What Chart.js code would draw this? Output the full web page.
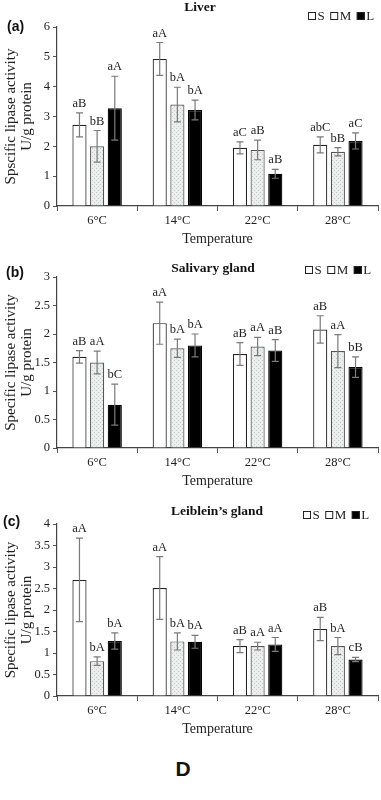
<!DOCTYPE html>
<html>
<head>
<meta charset="utf-8">
<script src="https://cdn.jsdelivr.net/npm/chart.js@4/dist/chart.umd.min.js"></script>
<style>
    body { margin: 0; background: #fff; width: 381px; height: 800px; position: relative; overflow: hidden; }
    .panel { position: absolute; left: 0; }
    #mark { position: absolute; left: 0; width: 366px; top: 757px; text-align: center;
            font: bold 21px "Liberation Sans", Arial, sans-serif; color: #111; }
</style>
</head>
<body>
<div class="panel" style="top:0px"><canvas id="chartA" width="381" height="250"></canvas></div>
<div class="panel" style="top:250px"><canvas id="chartB" width="381" height="242"></canvas></div>
<div class="panel" style="top:497px"><canvas id="chartC" width="381" height="243"></canvas></div>
<div id="mark">D</div>
<script>
// categories / series
const temps = ['6°C', '14°C', '22°C', '28°C'];
const sizes = ['S', 'M', 'L'];

// (a) liver: rows = S, M, L
const liverMeans = [[2.72, 4.93, 1.95, 2.05], [2.00, 3.40, 1.88, 1.82], [3.28, 3.22, 1.08, 2.18]];
const liverErr = [[0.40, 0.55, 0.20, 0.27], [0.53, 0.58, 0.33, 0.14], [1.07, 0.33, 0.15, 0.27]];
const liverLetters = [['aB', 'aA', 'aC', 'abC'], ['bB', 'bA', 'aB', 'bB'], ['aA', 'bA', 'aB', 'aC']];

// (b) salivary gland
const salivaryMeans = [[1.60, 2.19, 1.65, 2.08], [1.50, 1.75, 1.78, 1.70], [0.76, 1.80, 1.71, 1.42]];
const salivaryErr = [[0.11, 0.37, 0.20, 0.24], [0.20, 0.16, 0.16, 0.29], [0.36, 0.20, 0.19, 0.18]];
const salivaryLetters = [['aB', 'aA', 'aB', 'aB'], ['aA', 'bA', 'aA', 'aA'], ['bC', 'bA', 'aB', 'bB']];

// (c) Leiblein's gland
const leibleinMeans = [[2.70, 2.51, 1.16, 1.56], [0.81, 1.27, 1.16, 1.16], [1.28, 1.26, 1.20, 0.85]];
const leibleinErr = [[0.97, 0.73, 0.15, 0.27], [0.10, 0.20, 0.09, 0.20], [0.19, 0.15, 0.16, 0.05]];
const leibleinLetters = [['aA', 'aA', 'aB', 'aB'], ['bA', 'bA', 'aA', 'bA'], ['bA', 'bA', 'aA', 'cB']];

const serif = '"Liberation Serif", "Times New Roman", serif';

function dotPattern() {
    const c = document.createElement('canvas');
    c.width = 4; c.height = 4;
    const g = c.getContext('2d');
    g.fillStyle = '#eceeee';
    g.fillRect(0, 0, 4, 4);
    g.fillStyle = '#c9cccc';
    g.fillRect(0, 0, 1, 1);
    g.fillRect(2, 2, 1, 1);
    return g.createPattern(c, 'repeat');
}
const mFill = dotPattern();
const fills = ['#ffffff', mFill, '#000000'];
const borders = ['#222222', '#555555', '#000000'];

const decorPlugin = {
    id: 'decor',
    afterDatasetsDraw(chart) {
        const o = chart.options.plugins.decor;
        const ctx = chart.ctx, y = chart.scales.y;
        ctx.save();
        chart.data.datasets.forEach((ds, i) => {
            chart.getDatasetMeta(i).data.forEach((bar, j) => {
                const top = y.getPixelForValue(ds.data[j] + o.err[i][j]);
                const bot = y.getPixelForValue(ds.data[j] - o.err[i][j]);
                ctx.strokeStyle = '#7a7a7a';
                ctx.lineWidth = 1.2;
                ctx.beginPath();
                ctx.moveTo(bar.x, top); ctx.lineTo(bar.x, bot);
                ctx.moveTo(bar.x - 3.5, top); ctx.lineTo(bar.x + 3.5, top);
                ctx.moveTo(bar.x - 3.5, bot); ctx.lineTo(bar.x + 3.5, bot);
                ctx.stroke();
                ctx.fillStyle = '#222';
                ctx.font = '12.5px ' + serif;
                ctx.textAlign = 'center';
                ctx.textBaseline = 'bottom';
                ctx.fillText(o.letters[i][j], bar.x, top - 3);
            });
        });
        ctx.restore();
    },
    afterDraw(chart) {
        const o = chart.options.plugins.decor;
        const ctx = chart.ctx;
        ctx.save();
        ctx.textBaseline = 'middle';
        ctx.fillStyle = '#111';
        ctx.font = 'bold 14px "Liberation Sans", Arial, sans-serif';
        ctx.textAlign = 'left';
        ctx.fillText(o.label, o.labelX, o.labelY);
        ctx.font = 'bold 13.5px ' + serif;
        ctx.textAlign = 'center';
        ctx.fillText(o.title, o.titleX, o.titleY);
        // legend
        let x = o.legendX;
        ctx.font = '13px ' + serif;
        ctx.textAlign = 'left';
        sizes.forEach((s, i) => {
            ctx.fillStyle = i === 2 ? '#000' : '#fff';
            ctx.fillRect(x, o.legendY - 4, 8, 8);
            ctx.strokeStyle = '#222';
            ctx.lineWidth = 1;
            ctx.strokeRect(x + 0.5, o.legendY - 3.5, 7, 7);
            ctx.fillStyle = '#222';
            ctx.fillText(s, x + 9.5, o.legendY + 0.5);
            x += 10 + ctx.measureText(s).width + 5;
        });
        ctx.restore();
    }
};

function makeChart(id, means, err, letters, yMax, yStep, yLine1, decor) {
    new Chart(document.getElementById(id), {
        type: 'bar',
        data: {
            labels: temps,
            datasets: sizes.map((s, i) => ({
                label: s,
                data: means[i],
                backgroundColor: fills[i],
                borderColor: borders[i],
                borderWidth: 1.2,
                barPercentage: 0.8,
                categoryPercentage: 0.66
            }))
        },
        options: {
            responsive: false,
            animation: false,
            layout: { padding: { top: 27, right: 3, left: 0, bottom: 0 } },
            plugins: {
                legend: { display: false },
                tooltip: { enabled: false },
                decor: Object.assign({ err: err, letters: letters }, decor)
            },
            scales: {
                x: {
                    afterFit(scale) { scale.height = 44; },
                    grid: { display: true, drawOnChartArea: false, offset: true, tickLength: 5, color: '#555' },
                    border: { color: '#444', width: 1.2 },
                    ticks: { color: '#222', font: { family: serif, size: 12.5 }, padding: 2 },
                    title: { display: true, text: 'Temperature', color: '#222',
                             font: { family: serif, size: 14, lineHeight: 1.2 }, padding: { top: 0, bottom: 2 } }
                },
                y: {
                    min: 0, max: yMax,
                    afterFit(scale) { scale.width = 57; },
                    grid: { display: true, drawOnChartArea: false, tickLength: 4, color: '#555' },
                    border: { color: '#444', width: 1.2 },
                    ticks: { stepSize: yStep, color: '#222', font: { family: serif, size: 12.5 }, padding: 3,
                             callback: v => String(v) },
                    title: { display: true, text: [yLine1, 'U/g protein'], color: '#222',
                             font: { family: serif, size: 15, lineHeight: 1.05 }, padding: { top: 3, bottom: 0 } }
                }
            }
        },
        plugins: [decorPlugin]
    });
}

makeChart('chartA', liverMeans, liverErr, liverLetters, 6, 1, 'Spscific lipase activity',
    { label: '(a)', labelX: 7, labelY: 27, title: 'Liver', titleX: 200, titleY: 8, legendX: 308, legendY: 16 });
makeChart('chartB', salivaryMeans, salivaryErr, salivaryLetters, 3, 0.5, 'Specific lipase activity',
    { label: '(b)', labelX: 6, labelY: 23, title: 'Salivary gland', titleX: 213, titleY: 19, legendX: 305, legendY: 20 });
makeChart('chartC', leibleinMeans, leibleinErr, leibleinLetters, 4, 0.5, 'Specific lipase activity',
    { label: '(c)', labelX: 3, labelY: 25, title: 'Leiblein\u2019s gland', titleX: 217, titleY: 15, legendX: 303, legendY: 18 });
</script>
</body>
</html>
